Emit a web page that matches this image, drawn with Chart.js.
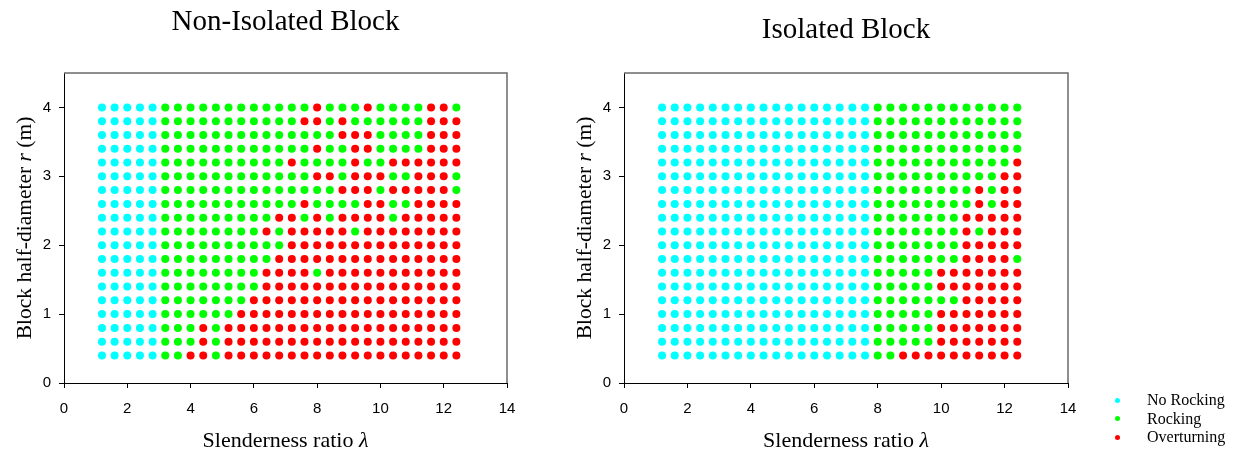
<!DOCTYPE html>
<html>
<head>
<meta charset="utf-8">
<title>Rocking response maps</title>
<script src="https://cdn.jsdelivr.net/npm/chart.js@4.4.1/dist/chart.umd.min.js"></script>
<style>
  body { margin: 0; background: #fff; }
  #wrap { position: relative; width: 1234px; height: 453px; overflow: hidden; }
  #leftChart { position: absolute; left: 0; top: 0; }
  #rightChart { position: absolute; left: 560px; top: 0; }
  #legend { position: absolute; left: 1115px; top: 391px; font: 16px 'Liberation Serif', 'Times New Roman', serif; color: #000; }
  .item { position: relative; height: 18.6px; line-height: 18.6px; white-space: nowrap; }
  .dot { position: absolute; left: 0; top: 6.8px; width: 5px; height: 5px; border-radius: 50%; }
  .lbl { position: absolute; left: 32px; top: 0; }
</style>
</head>
<body>
<div id="wrap">
  <canvas id="leftChart" width="560" height="453"></canvas>
  <canvas id="rightChart" width="674" height="453"></canvas>
  <div id="legend"></div>
</div>
<script>
// grid of the parametric study
const lambdaValues = [1.2, 1.6, 2.0, 2.4, 2.8, 3.2, 3.6, 4.0, 4.4, 4.8, 5.2, 5.6, 6.0, 6.4, 6.8,
                      7.2, 7.6, 8.0, 8.4, 8.8, 9.2, 9.6, 10.0, 10.4, 10.8, 11.2, 11.6, 12.0, 12.4];
const radiusValues = [4.0, 3.8, 3.6, 3.4, 3.2, 3.0, 2.8, 2.6, 2.4, 2.2, 2.0,
                      1.8, 1.6, 1.4, 1.2, 1.0, 0.8, 0.6, 0.4];
const xTicks = [0, 2, 4, 6, 8, 10, 12, 14];
const yTicks = [0, 1, 2, 3, 4];

const classCodes = ['C', 'G', 'R'];
const classNames = ['No Rocking', 'Rocking', 'Overturning'];
const classColors = ['#00ffff', '#00ff00', '#ff0000'];

// one string per row, r = 4.0 at the top down to r = 0.4, one letter per lambda value
// C = no rocking, G = rocking, R = overturning (spaces only group the columns by 5)
const nonIsolatedGrid = [
  'CCCCC GGGGG GGGGG GGRGG GRGGG GRRG',
  'CCCCC GGGGG GGGGG GRRGR GGGGG GRRR',
  'CCCCC GGGGG GGGGG GGGGR RRGGG GRRR',
  'CCCCC GGGGG GGGGG GGRGG RRGGG GRRR',
  'CCCCC GGGGG GGGGG RGGGG RGGRR RRRR',
  'CCCCC GGGGG GGGGG GGRRG RRRGG RRRG',
  'CCCCC GGGGG GGGGG GGGGR RRGRR RRRG',
  'CCCCC GGGGG GGGGG GRGGG GRRGG RRRR',
  'CCCCC GGGGG GGGGR RGRGR RRRGR RRRR',
  'CCCCC GGGGG GGGRG RRRRR GRRRR RRRR',
  'CCCCC GGGGG GGGGG RRRRR RRRRR RRRR',
  'CCCCC GGGGG GGGGR RRRRR RRRRR RRRR',
  'CCCCC GGGGG GGGRR RRGRR RRRRR RRRR',
  'CCCCC GGGGG GGGRR RRRRR RRRRR RRRR',
  'CCCCC GGGGG GGRRR RRRRR RRRRR RRRR',
  'CCCCC GGGGG GRRRR RRRRR RRRRR RRRR',
  'CCCCC GGGRG RRRRR RRRRR RRRRR RRRR',
  'CCCCC GGGRG RRRRR RRRRR RRRRR RRRR',
  'CCCCC GGRRG RRRRR RRRRR RRRRR RRRR'
];
const isolatedGrid = [
  'CCCCC CCCCC CCCCC CCGGG GGGGG GGGG',
  'CCCCC CCCCC CCCCC CCGGG GGGGG GGGG',
  'CCCCC CCCCC CCCCC CCGGG GGGGG GGGG',
  'CCCCC CCCCC CCCCC CCGGG GGGGG GGGG',
  'CCCCC CCCCC CCCCC CCGGG GGGGG GGGR',
  'CCCCC CCCCC CCCCC CCGGG GGGGG GGRR',
  'CCCCC CCCCC CCCCC CCGGG GGGGG RGRR',
  'CCCCC CCCCC CCCCC CCGGG GGGGG RGRR',
  'CCCCC CCCCC CCCCC CCGGG GGGGR RRRR',
  'CCCCC CCCCC CCCCC CCGGG GGGGR GRRR',
  'CCCCC CCCCC CCCCC CCGGG GGGGR RRRR',
  'CCCCC CCCCC CCCCC CCGGG GGGGR RRRG',
  'CCCCC CCCCC CCCCC CCGGG GGRRR RRRR',
  'CCCCC CCCCC CCCCC CCGGG GGRRR RRRR',
  'CCCCC CCCCC CCCCC CCGGG GGGGR RRRR',
  'CCCCC CCCCC CCCCC CCGGG GGRRR RRRR',
  'CCCCC CCCCC CCCCC CCGGG GGRRR RRRR',
  'CCCCC CCCCC CCCCC CCGGG GGRRR RRRR',
  'CCCCC CCCCC CCCCC CCGGR RRRRR RRRR'
];

const serif = "'Liberation Serif', 'Times New Roman', serif";
const sans = "'Liberation Sans', Arial, sans-serif";

function buildDatasets(grid) {
  const sets = classNames.map((name, k) => ({
    label: name,
    data: [],
    backgroundColor: classColors[k],
    borderWidth: 0,
    pointRadius: 4,
    pointHoverRadius: 4
  }));
  grid.forEach((row, r) => {
    const codes = row.replace(/ /g, '');
    for (let c = 0; c < codes.length; c++) {
      const k = classCodes.indexOf(codes[c]);
      sets[k].data.push({ x: lambdaValues[c], y: radiusValues[r] });
    }
  });
  return sets;
}

// draws text pieces side by side, some in italic
function drawParts(ctx, parts, size) {
  let total = 0;
  parts.forEach(p => {
    ctx.font = (p.italic ? 'italic ' : '') + size + 'px ' + serif;
    total += ctx.measureText(p.text).width;
  });
  let x = -total / 2;
  parts.forEach(p => {
    ctx.font = (p.italic ? 'italic ' : '') + size + 'px ' + serif;
    ctx.fillText(p.text, x, 0);
    x += ctx.measureText(p.text).width;
  });
}

const framePlugin = {
  id: 'frame',
  afterDraw(chart) {
    const { ctx, chartArea: a } = chart;
    ctx.save();
    // top and right sides of the box
    ctx.strokeStyle = '#6a6a6a';
    ctx.lineWidth = 1.5;
    ctx.beginPath();
    ctx.moveTo(a.left, a.top);
    ctx.lineTo(a.right, a.top);
    ctx.lineTo(a.right, a.bottom);
    ctx.stroke();

    // axis titles
    ctx.fillStyle = '#000';
    ctx.textBaseline = 'alphabetic';
    ctx.save();
    ctx.translate((a.left + a.right) / 2, 447);
    drawParts(ctx, [{ text: 'Slenderness ratio ' }, { text: 'λ', italic: true }], 22);
    ctx.restore();
    ctx.save();
    ctx.translate(a.left - 33, (a.top + a.bottom) / 2);
    ctx.rotate(-Math.PI / 2);
    drawParts(ctx, [{ text: 'Block half-diameter ' }, { text: 'r', italic: true }, { text: ' (m)' }], 21.5);
    ctx.restore();
    ctx.restore();
  }
};

function makeChart(id, titleText, grid, titlePad, rightPad) {
  return new Chart(document.getElementById(id), {
    type: 'scatter',
    data: { datasets: buildDatasets(grid) },
    options: {
      responsive: false,
      animation: false,
      devicePixelRatio: 1,
      layout: { padding: { left: 0, right: rightPad, top: 0, bottom: 0 } },
      plugins: {
        legend: { display: false },
        tooltip: { enabled: false },
        title: {
          display: true,
          fullSize: false,
          text: titleText,
          color: '#000',
          font: { family: serif, size: 29, weight: 'normal' },
          padding: titlePad
        }
      },
      scales: {
        x: {
          type: 'linear',
          min: 0,
          max: 14,
          afterBuildTicks: s => { s.ticks = xTicks.map(v => ({ value: v })); },
          afterFit: s => { s.height = 70; },
          ticks: { color: '#000', font: { family: sans, size: 15 }, padding: 12, maxRotation: 0 },
          grid: { drawOnChartArea: false, drawTicks: true, tickLength: 5, color: '#000' },
          border: { display: true, color: '#000', width: 1 }
        },
        y: {
          type: 'linear',
          min: 0,
          max: 4.5,
          afterBuildTicks: s => { s.ticks = yTicks.map(v => ({ value: v })); },
          afterFit: s => { s.width = 64; },
          ticks: { color: '#000', font: { family: sans, size: 15 }, padding: 8 },
          grid: { drawOnChartArea: false, drawTicks: true, tickLength: 5, color: '#000' },
          border: { display: true, color: '#000', width: 1 }
        }
      }
    },
    plugins: [framePlugin]
  });
}

makeChart('leftChart', 'Non-Isolated Block', nonIsolatedGrid, { top: 5, bottom: 33.2 }, 53);
makeChart('rightChart', 'Isolated Block', isolatedGrid, { top: 13, bottom: 25.2 }, 166);

// legend
const legend = document.getElementById('legend');
classNames.forEach((name, k) => {
  const item = document.createElement('div');
  item.className = 'item';
  item.innerHTML = '<span class="dot" style="background:' + classColors[k] + '"></span><span class="lbl">' + name + '</span>';
  legend.appendChild(item);
});
</script>
</body>
</html>
